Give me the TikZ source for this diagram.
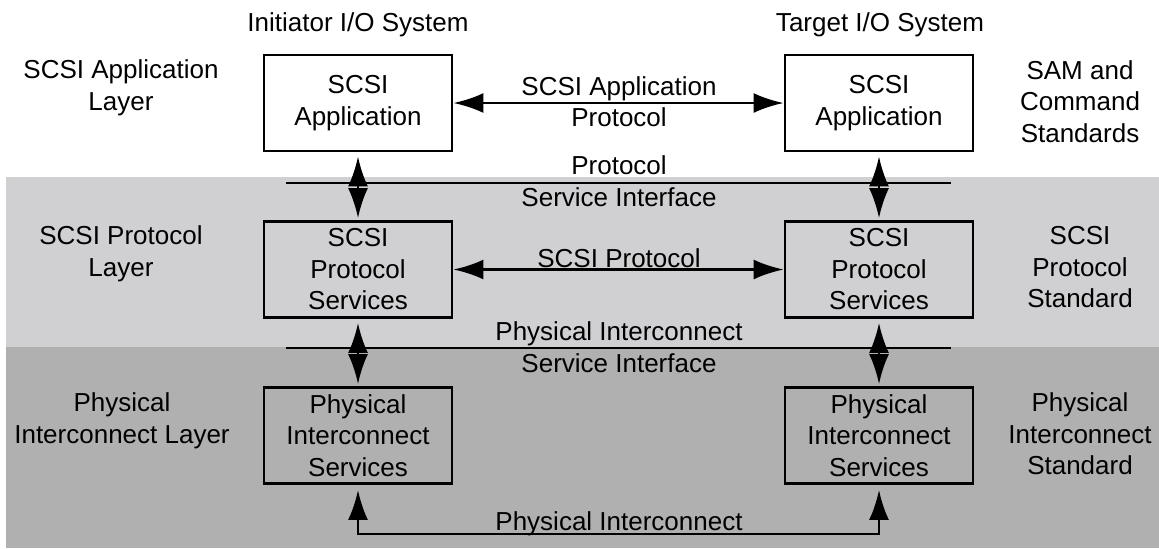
\documentclass[tikz,border=0pt]{standalone}
\usepackage{fontspec}
\setmainfont{Liberation Sans}
\usetikzlibrary{arrows.meta}
\definecolor{protofill}{RGB}{208,208,210}
\definecolor{phyfill}{RGB}{176,176,176}
\tikzstyle{sbox} = [rectangle, draw, line width=1.4pt, minimum width=94pt,
    minimum height=48pt, inner sep=0pt, align=center]
\tikzstyle{lbl} = [align=center, inner sep=0pt]
\tikzstyle{bus} = [line width=1.4pt]
\begin{document}
\begin{tikzpicture}[>={Latex[length=15pt,width=10pt]},x=0.5pt,y=-0.5pt,
                    line width=1.4pt,font=\fontsize{13}{15.75}\selectfont]
  \useasboundingbox (0,0) rectangle (1159,548);
  % layer bands
  \fill[protofill] (6,177) rectangle (1159,347);
  \fill[phyfill]   (6,347) rectangle (1159,548);

  \node[sbox] (iapp)  at (358,103)   {SCSI\\Application};
  \node[sbox] (tapp)  at (879,103)   {SCSI\\Application};
  \node[sbox] (iprot) at (358,269.5) {SCSI\\Protocol\\Services};
  \node[sbox] (tprot) at (879,269.5) {SCSI\\Protocol\\Services};
  \node[sbox] (iphy)  at (358,435.5) {Physical\\Interconnect\\Services};
  \node[sbox] (tphy)  at (879,435.5) {Physical\\Interconnect\\Services};

  % service interfaces
  \coordinate (psl) at (286,183);
  \coordinate (psr) at (951,183);
  \coordinate (pil) at (286,348);
  \coordinate (pir) at (951,348);
  \coordinate (bl)  at (358,534);
  \draw[bus] (psl) -- (psr);
  \draw[bus] (pil) -- (pir);

  \path[<->] (iapp)  edge (tapp)
             (iprot) edge (tprot)
             (iapp)  edge[shorten <=2pt,shorten >=1pt] (iprot)
             (tapp)  edge[shorten <=2pt,shorten >=1pt] (tprot)
             (iprot) edge[shorten <=2pt,shorten >=1pt] (iphy)
             (tprot) edge[shorten <=2pt,shorten >=1pt] (tphy);
  \draw[<->,shorten <=2.5pt,shorten >=2.5pt] (iphy.south) -- (iphy.south |- bl) -| (tphy.south);

  \node[lbl] (initsys)   at (358,25)    {Initiator I/O System};
  \node[lbl] (targsys)   at (880,25)    {Target I/O System};
  \node[lbl] (applayer)  at (121,88)    {SCSI Application\\Layer};
  \node[lbl] (samstd)    at (1080,101.5) {SAM and\\Command\\Standards};
  \node[lbl] (appproto)  at (619,101.5) {SCSI Application\\Protocol};
  \node[lbl] (psitop)    at (619,165)   {Protocol};
  \node[lbl] (psibot)    at (619,197.5) {Service Interface};
  \node[lbl] (protlayer) at (121,254)   {SCSI Protocol\\Layer};
  \node[lbl] (scsiproto) at (619,258.5) {SCSI Protocol};
  \node[lbl] (protstd)   at (1080,267.5) {SCSI\\Protocol\\Standard};
  \node[lbl] (pitop)     at (619,334)   {Physical Interconnect};
  \node[lbl] (pibot)     at (619,363)   {Service Interface};
  \node[lbl] (phylayer)  at (122,421)   {Physical\\Interconnect Layer};
  \node[lbl] (phystd)    at (1080,434)  {Physical\\Interconnect\\Standard};
  \node[lbl] (phylink)   at (619,524)   {Physical Interconnect};
\end{tikzpicture}
\end{document}
